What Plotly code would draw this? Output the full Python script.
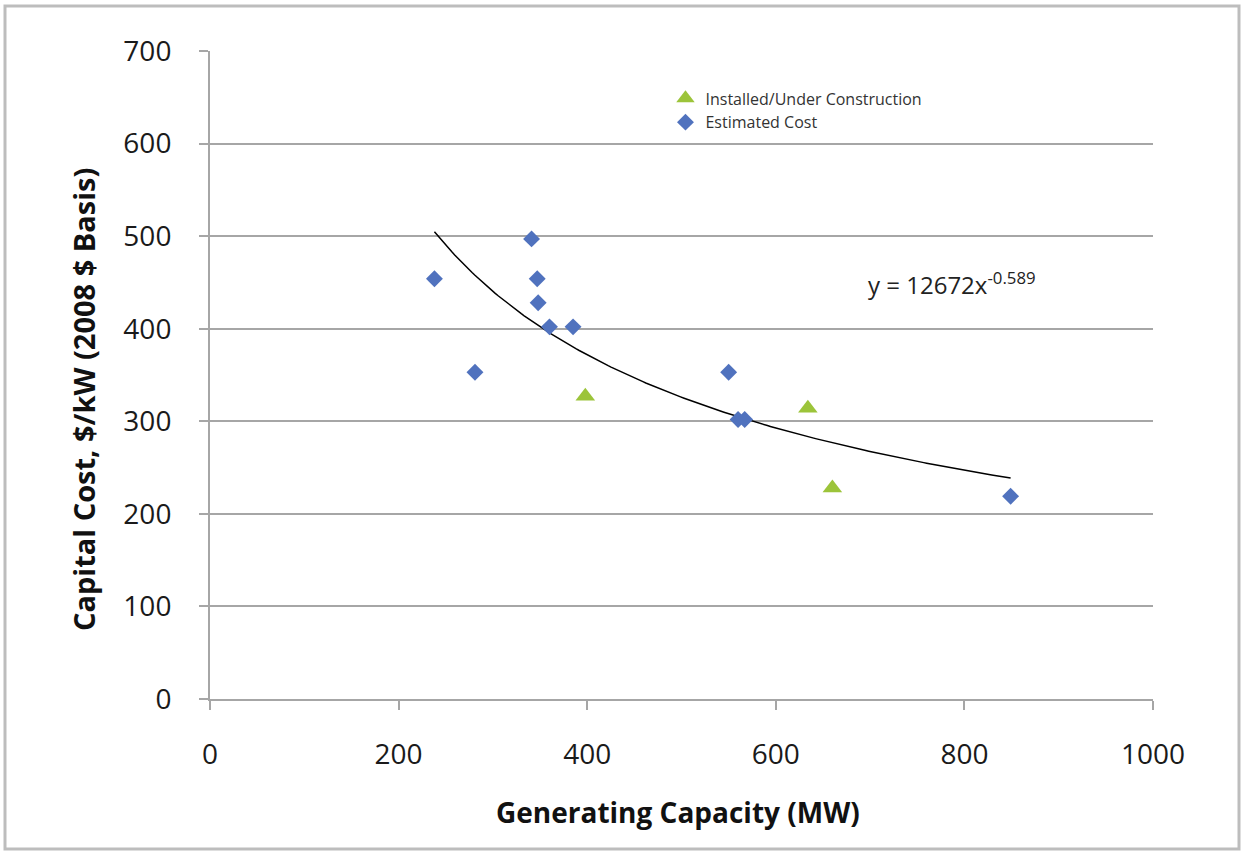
import numpy as np
import plotly.graph_objects as go

# Data
est_x = [238, 281, 341, 347, 348, 360, 385, 550, 560, 567, 849]
est_y = [454, 353, 497, 454, 428, 402, 402, 353, 302, 302, 219]
inst_x = [398, 634, 660]
inst_y = [327, 314, 228]
trend_a = 12672
trend_b = -0.589
x_ticks = [0, 200, 400, 600, 800, 1000]
y_ticks = [0, 100, 200, 300, 400, 500, 600, 700]

FONT = "Open Sans"
all_x = est_x + inst_x
tx = np.linspace(min(all_x), max(all_x), 200)
ty = trend_a * tx ** trend_b

fig = go.Figure()
fig.add_trace(go.Scatter(x=tx, y=ty, mode="lines", line=dict(color="black", width=1.5),
                         showlegend=False, hoverinfo="skip"))
fig.add_trace(go.Scatter(x=inst_x, y=inst_y, mode="markers", name="Installed/Under Construction",
                         marker=dict(symbol="triangle-up", size=17, color="#9cc43a")))
fig.add_trace(go.Scatter(x=est_x, y=est_y, mode="markers", name="Estimated Cost",
                         marker=dict(symbol="diamond", size=13, color="#5072be")))

fig.update_layout(
    width=1243, height=852,
    margin=dict(l=210, r=90, t=51, b=153),
    paper_bgcolor="white", plot_bgcolor="white",
    font=dict(family=FONT, color="#222222"),
    legend=dict(x=0.483, y=0.953, xanchor="left", yanchor="top",
                font=dict(size=16, family=FONT, color="#333333"),
                bgcolor="rgba(0,0,0,0)", itemwidth=30, tracegroupgap=2),
    xaxis=dict(range=[0, 1000], tickvals=x_ticks, showgrid=False, zeroline=False,
               showline=True, linecolor="#a6a6a6", linewidth=2,
               ticks="outside", ticklen=9, tickcolor="#a6a6a6", tickwidth=2,
               tickfont=dict(size=28, family=FONT, color="#1a1a1a"),
               ticklabelstandoff=20),
    yaxis=dict(range=[0, 700], tickvals=y_ticks, showgrid=True, gridcolor="#a6a6a6", gridwidth=2,
               zeroline=False, showline=True, linecolor="#a6a6a6", linewidth=2,
               ticks="outside", ticklen=9, tickcolor="#a6a6a6", tickwidth=2,
               tickfont=dict(size=28, family=FONT, color="#1a1a1a"),
               ticklabelstandoff=22),
    shapes=[dict(type="rect", xref="paper", yref="paper",
                 x0=(5 - 210) / 943, x1=(1239 - 210) / 943,
                 y0=(699 - 849) / 648, y1=(699 - 6) / 648,
                 line=dict(color="#bdbdbd", width=3), layer="below")],
    annotations=[
        dict(text="<b>Capital Cost, $/kW (2008 $ Basis)</b>", xref="paper", yref="paper",
             x=(83 - 210) / 943, y=(699 - 400) / 648, textangle=-90, showarrow=False,
             font=dict(size=29, family=FONT, color="#111111"), xanchor="center", yanchor="middle"),
        dict(text="<b>Generating Capacity (MW)</b>", xref="paper", yref="paper",
             x=(678 - 210) / 943, y=(699 - 812) / 648, showarrow=False,
             font=dict(size=28, family=FONT, color="#111111"), xanchor="center", yanchor="middle"),
        dict(text="y = 12672x<sup>-0.589</sup>", xref="paper", yref="paper",
             x=(866 - 210) / 943, y=(699 - 283) / 648, showarrow=False, xanchor="left",
             yanchor="middle", font=dict(size=24, family=FONT, color="#222222")),
    ],
)
fig.write_html("out.html")
